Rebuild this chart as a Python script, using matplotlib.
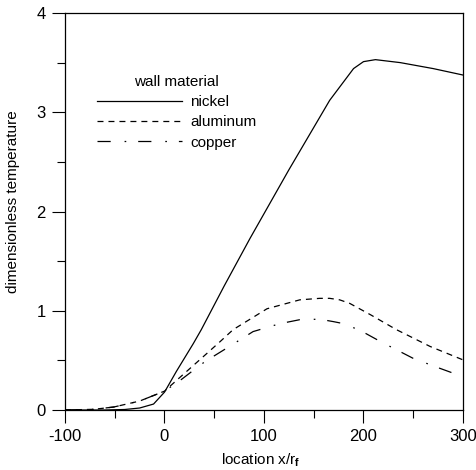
import numpy as np
import matplotlib
matplotlib.use("Agg")
import matplotlib.pyplot as plt
from matplotlib.ticker import MultipleLocator

plt.rcParams["font.family"] = ["Liberation Sans", "DejaVu Sans"]
plt.rcParams["mathtext.fontset"] = "custom"
plt.rcParams["mathtext.rm"] = "Liberation Sans"
plt.rcParams["mathtext.bf"] = "Liberation Sans:bold"
plt.rcParams["lines.scale_dashes"] = False
plt.rcParams["axes.unicode_minus"] = False

# ---------------- data ----------------
x_nickel = [-100, -60, -40, -25, -11, 0, 12, 29, 37, 60, 86, 125, 166, 190, 200, 212, 237, 270, 300]
y_nickel = [0.0, 0.0, 0.005, 0.02, 0.06, 0.18, 0.39, 0.67, 0.81, 1.25, 1.73, 2.42, 3.12, 3.44, 3.51, 3.53, 3.50, 3.44, 3.375]

x_aluminum = [-100, -71, -51, -25, -5, 0, 19, 37, 56, 69, 103, 136, 156, 166, 176, 186, 207, 233, 267, 300]
y_aluminum = [0.0, 0.007, 0.03, 0.09, 0.17, 0.19, 0.36, 0.52, 0.69, 0.81, 1.02, 1.11, 1.125, 1.125, 1.11, 1.075, 0.96, 0.81, 0.64, 0.505]

x_copper = [-100, -71, -51, -25, -5, 0, 16, 29, 41, 62, 89, 116, 136, 156, 170, 180, 197, 217, 250, 274, 300]
y_copper = [0.0, 0.007, 0.03, 0.09, 0.17, 0.19, 0.30, 0.40, 0.49, 0.62, 0.79, 0.87, 0.91, 0.915, 0.89, 0.87, 0.80, 0.69, 0.52, 0.43, 0.335]

x_ticks = [-100, 0, 100, 200, 300]
y_ticks = [0, 1, 2, 3, 4]

# ---------------- plot ----------------
fig = plt.figure(figsize=(4.77, 4.70), dpi=100)
ax = fig.add_axes([65 / 477, 60 / 470, 398 / 477, 397 / 470])

lw = 0.9
ax.plot(x_nickel, y_nickel, color="black", lw=lw, label="nickel")
ax.plot(x_aluminum, y_aluminum, color="black", lw=lw, dashes=(4.3, 3.6), label="aluminum")
ax.plot(x_copper, y_copper, color="black", lw=lw, dashes=(9.5, 10.0, 1.2, 8.6), label="copper")

ax.set_xlim(-100, 300)
ax.set_ylim(0, 4)
ax.set_xticks(x_ticks)
ax.set_yticks(y_ticks)
ax.xaxis.set_minor_locator(MultipleLocator(50))
ax.yaxis.set_minor_locator(MultipleLocator(0.5))
ax.tick_params(which="major", direction="out", length=9.5, width=0.8, labelsize=12)
ax.tick_params(which="minor", direction="out", length=5.5, width=0.8)
ax.tick_params(axis="x", which="major", pad=4)
ax.tick_params(axis="y", which="major", pad=4.5)
ax.tick_params(top=False, right=False, which="both")
for s in ax.spines.values():
    s.set_linewidth(0.9)

ax.set_xlabel(r"location x/r$_\mathbf{f}$", fontsize=11, va="top")
ax.set_ylabel("dimensionless temperature", fontsize=11, va="center")
ax.xaxis.set_label_coords(0.492, -0.104)
ax.yaxis.set_label_coords(-0.131, 0.524)

leg = ax.legend(title="wall material", frameon=False, fontsize=11, title_fontsize=11,
                loc="upper left", bbox_to_anchor=(0.080, 0.845), borderpad=0, borderaxespad=0,
                handlelength=5.6, handletextpad=0.5, labelspacing=0.42)

fig.savefig("out.png", dpi=100)
